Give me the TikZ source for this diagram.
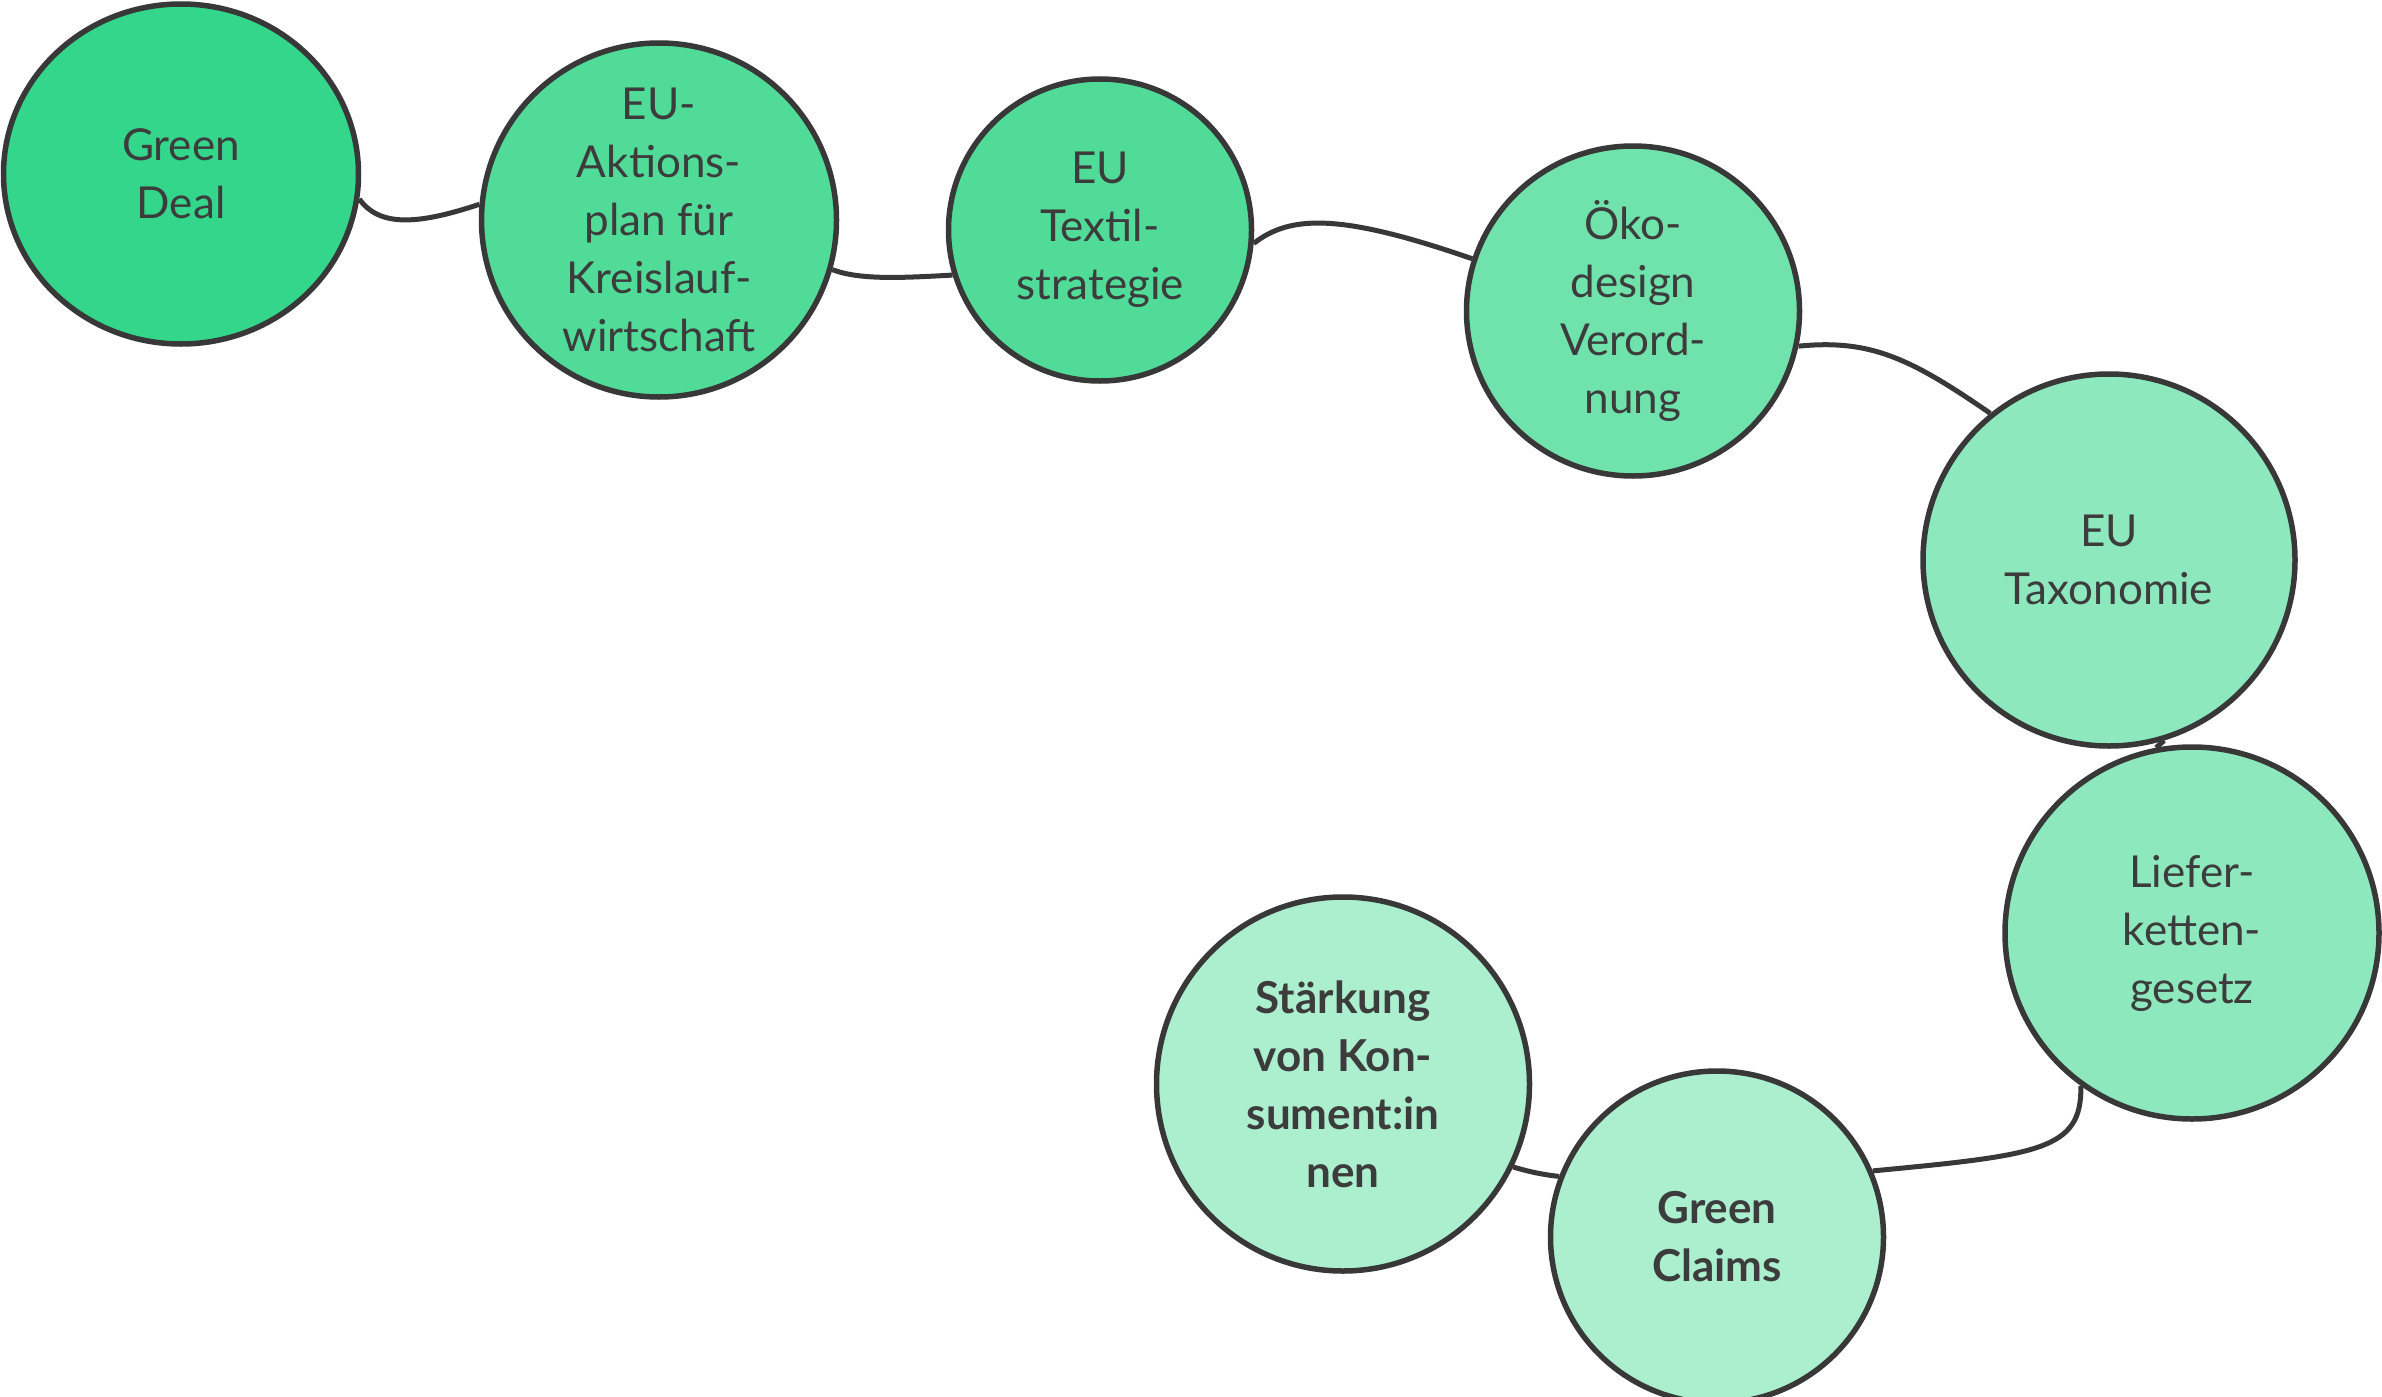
\documentclass[tikz,border=0pt]{standalone}
\usepackage{fontspec}
\setmainfont{Lato}
\usepackage{xcolor}
\usepackage{tikz}
\usetikzlibrary{shapes.geometric}

\definecolor{ink}{RGB}{60,60,60}
\definecolor{rim}{RGB}{56,56,56}
\definecolor{greenA}{RGB}{51,214,138}
\definecolor{greenB}{RGB}{80,220,152}
\definecolor{greenC}{RGB}{112,227,172}
\definecolor{greenD}{RGB}{141,232,190}
\definecolor{greenE}{RGB}{171,239,207}

\begin{document}
\begin{tikzpicture}[x=1pt,y=-1pt,
		bubble/.style={ellipse, draw=rim, line width=5.5pt, inner xsep=0pt, inner ysep=-40pt,
			align=center, text=ink, font=\fontsize{44}{58}\selectfont},
		link/.style={draw=rim, line width=5pt}]
		\useasboundingbox (0,0) rectangle (2382,1397);
		
		% draw the bubbles
		\node[bubble, fill=greenA, minimum width=355, minimum height=340] (deal) at (181,174) {Green\\Deal};
		\node[bubble, fill=greenB, minimum width=355, minimum height=354] (plan) at (659,220) {EU-\\Aktions-\\plan für\\Kreislauf-\\wirtschaft};
		\node[bubble, fill=greenB, minimum width=303, minimum height=302] (textil) at (1100,230) {EU\\Textil-\\strategie};
		\node[bubble, fill=greenC, minimum width=333, minimum height=330] (oeko) at (1633,311) {Öko-\\design\\Verord-\\nung};
		\node[bubble, fill=greenD, minimum width=372, minimum height=372] (taxo) at (2109,560) {EU\\Taxonomie};
		\node[bubble, fill=greenD, minimum width=374, minimum height=372] (liefer) at (2192,933) {Liefer-\\ketten-\\gesetz};
		\node[bubble, fill=greenE, minimum width=333, minimum height=332] (claims) at (1717,1237) {\bfseries Green\\\bfseries Claims};
		\node[bubble, fill=greenE, minimum width=373, minimum height=374] (konsum) at (1343,1084) {\bfseries Stärkung\\\bfseries von Kon-\\\bfseries sument:in\\\bfseries nen};
		
		% draw the connecting lines
		\draw[link] (deal.-8) .. controls (380,228) and (420,224) .. (plan.175);
		\draw[link] (plan.-16) .. controls (860,280) and (900,278) .. (textil.197);
		\draw[link] (textil.-5) .. controls (1290,215) and (1340,213) .. (oeko.162);
		\draw[link] (oeko.-12) .. controls (1870,339) and (1910,358) .. (taxo.129);
		\draw[link] (taxo.-73) -- (liefer.101);
		\draw[link] (liefer.-126) .. controls (2082,1150) and (2040,1155) .. (claims.23);
		\draw[link] (konsum.-26) .. controls (1530,1172) and (1545,1175) .. (claims.159);
\end{tikzpicture}
\end{document}
